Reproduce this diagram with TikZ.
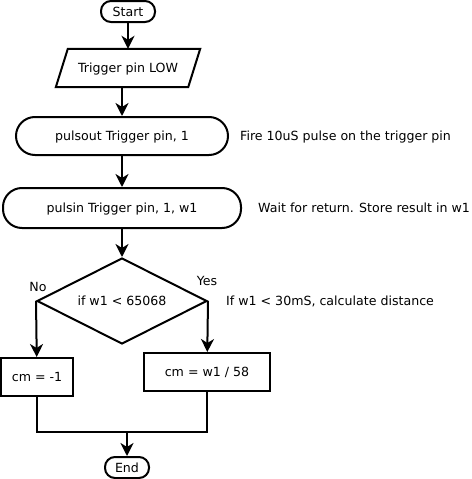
\documentclass[tikz,border=0pt]{standalone}
\usepackage{fontspec}
\setmainfont{DejaVu Sans}
\usetikzlibrary{arrows.meta,shapes.geometric}

\begin{document}
\begin{tikzpicture}[x=1pt, y=-1pt,
        every node/.style={font=\fontsize{12.6}{15}\selectfont, inner sep=0pt,
            text height=9.2pt, text depth=0pt},
        flow/.style={draw, line width=2pt},
        terminal/.style={flow, rounded corners=10pt, minimum height=21pt},
        call/.style={flow, rounded corners=19pt, minimum height=38pt},
        decision/.style={flow, diamond, aspect=2, minimum width=170pt, minimum height=86pt},
        cmd/.style={flow, minimum height=38pt},
        note/.style={anchor=west},
        line/.style={line width=2pt},
        arrow/.style={line, -{Stealth[length=13pt, width=13pt, inset=4pt]}}]
    \useasboundingbox (0,0) rectangle (471,479);

    \node[terminal, minimum width=54pt] (start) at (128,11.5) {Start};
    \node[minimum width=132pt, minimum height=38pt] (trig) at (128,68) {Trigger pin LOW};
    \draw[line] ([xshift=-6pt]trig.south west) -- ([xshift=-6pt]trig.south east)
        -- ([xshift=6pt]trig.north east) -- ([xshift=6pt]trig.north west) -- cycle;
    \node[call, minimum width=212pt] (pulsout) at (122,136) {pulsout Trigger pin, 1};
    \node[call, minimum width=238pt, minimum height=40pt] (pulsin) at (122,208) {pulsin Trigger pin, 1, w1};
    \node[decision] (cond) at (122,301) {if w1 < 65068};
    \node[cmd, minimum width=72pt] (neg) at (37,377) {cm = -1};
    \node[cmd, minimum width=126pt] (dist) at (207,372) {cm = w1 / 58};
    \node[terminal, minimum width=44pt] (end) at (127,467.5) {End};
    \coordinate (join) at (127,432);

    \node (no) at (38,287) {No};
    \node (yes) at (207,281) {Yes};

    \node[note] (fire) at (240,136) {Fire 10uS pulse on the trigger pin};
    \node[note] (wait) at (258,208) {Wait for return. Store result in w1};
    \node[note] (calc) at (226,301) {If w1 < 30mS, calculate distance};

    \draw[arrow] (start) -- (trig);
    \draw[arrow] (trig.south -| pulsout.north) -- (pulsout);
    \draw[arrow] (pulsout) -- (pulsin);
    \draw[arrow] (pulsin) -- (cond);
    \draw[arrow] (cond.west) -- (neg);
    \draw[arrow] (cond.east) -- (dist);
    \draw[line] (neg) |- (join) -| (dist);
    \draw[arrow] (join) -- (end);
\end{tikzpicture}
\end{document}
